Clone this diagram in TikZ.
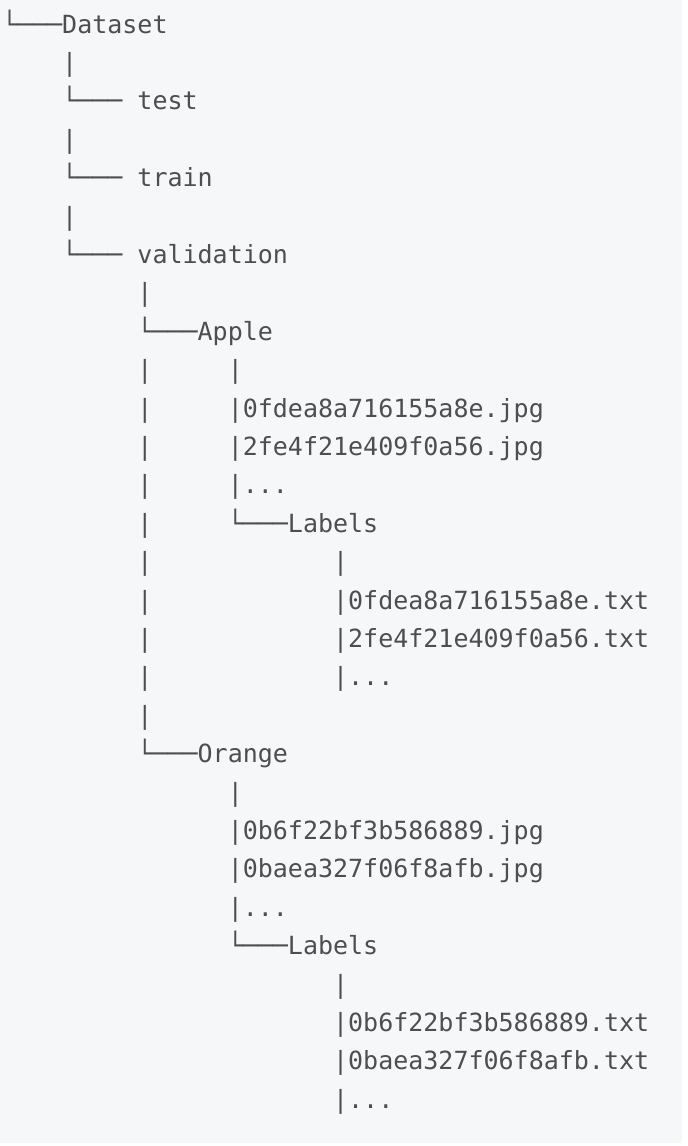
\documentclass[tikz,border=0pt]{standalone}
\usepackage{fontspec}
\newfontfamily\treefont{DejaVu Sans Mono}
\definecolor{pagegray}{RGB}{246,247,249}
\definecolor{inkgray}{RGB}{78,78,78}

\tikzset{
    entry/.style={anchor=base west, inner sep=0pt, outer sep=0pt, text=inkgray,
        font=\treefont\fontsize{25}{30}\selectfont},
}

\begin{document}
\begin{tikzpicture}[x=15.05pt, y=-38.4pt]
        % page and code block background
        \fill[white] (-2pt,33pt) rectangle (686pt,-1113pt);
        \fill[pagegray] (-2pt,33pt) rectangle (680pt,-1110pt);
        \useasboundingbox (-2pt,33pt) rectangle (686pt,-1113pt);

        % top level
        \node[entry] (dataset) at (0,0) {└───Dataset};
        \node[entry] (bar-1) at (4,1) {|};
        \node[entry] (test) at (4,2) {└─── test};
        \node[entry] (bar-3) at (4,3) {|};
        \node[entry] (train) at (4,4) {└─── train};
        \node[entry] (bar-5) at (4,5) {|};
        \node[entry] (validation) at (4,6) {└─── validation};

        % validation folder
        \node[entry] (bar-7) at (9,7) {|};
        \node[entry] (apple) at (9,8) {└───Apple};
        \foreach \r in {9,...,18}
            \node[entry] (side-\r) at (9,\r) {|};

        % Apple images
        \node[entry] (bar-9) at (15,9) {|};
        \node[entry] (apple-jpg-1) at (15,10) {|0fdea8a716155a8e.jpg};
        \node[entry] (apple-jpg-2) at (15,11) {|2fe4f21e409f0a56.jpg};
        \node[entry] (apple-jpg-more) at (15,12) {|...};
        \node[entry] (apple-labels) at (15,13) {└───Labels};
        % Apple labels
        \node[entry] (bar-14) at (22,14) {|};
        \node[entry] (apple-txt-1) at (22,15) {|0fdea8a716155a8e.txt};
        \node[entry] (apple-txt-2) at (22,16) {|2fe4f21e409f0a56.txt};
        \node[entry] (apple-txt-more) at (22,17) {|...};

        \node[entry] (orange) at (9,19) {└───Orange};

        % Orange images
        \node[entry] (bar-20) at (15,20) {|};
        \node[entry] (orange-jpg-1) at (15,21) {|0b6f22bf3b586889.jpg};
        \node[entry] (orange-jpg-2) at (15,22) {|0baea327f06f8afb.jpg};
        \node[entry] (orange-jpg-more) at (15,23) {|...};
        \node[entry] (orange-labels) at (15,24) {└───Labels};
        % Orange labels
        \node[entry] (bar-25) at (22,25) {|};
        \node[entry] (orange-txt-1) at (22,26) {|0b6f22bf3b586889.txt};
        \node[entry] (orange-txt-2) at (22,27) {|0baea327f06f8afb.txt};
        \node[entry] (orange-txt-more) at (22,28) {|...};
\end{tikzpicture}
\end{document}
